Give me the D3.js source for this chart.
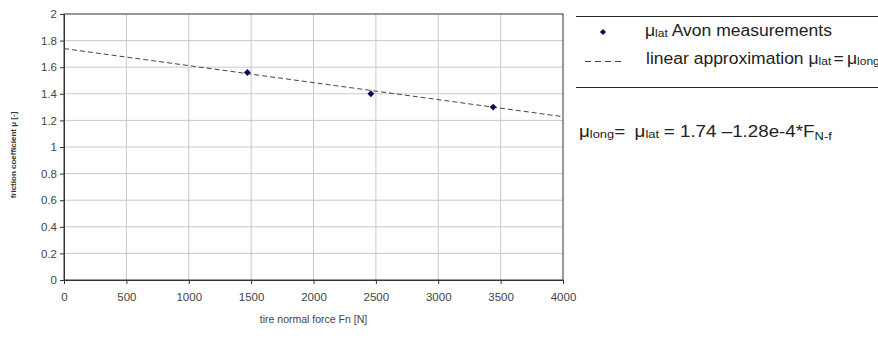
<!DOCTYPE html>
<html lang="en">
<head>
<meta charset="utf-8">
<title>friction coefficient</title>
<script src="https://cdn.jsdelivr.net/npm/d3@7"></script>
<style>
  body { margin: 0; background: #fff; }
  text { font-family: "Liberation Sans", Arial, sans-serif; }
</style>
</head>
<body>
<script>
var w = 878, h = 354;
var plotLeft = 64, plotRight = 563, plotTop = 14, plotBottom = 280;

// measured points (tire normal force [N], mu)
var forceN = [1470, 2460, 3440];
var muLat = [1.56, 1.40, 1.30];

// linear fit mu = a + b*F
var fitA = 1.74, fitB = -1.28e-4;

var xTicks = [0, 500, 1000, 1500, 2000, 2500, 3000, 3500, 4000];
var yTicks = [0, 0.2, 0.4, 0.6, 0.8, 1, 1.2, 1.4, 1.6, 1.8, 2];

var xScale = d3.scaleLinear().domain([0, 4000]).range([plotLeft, plotRight]);
var yScale = d3.scaleLinear().domain([0, 2]).range([plotBottom, plotTop]);

var svg = d3.select("body").append("svg").attr("width", w).attr("height", h);

// grid
svg.append("g").selectAll("line").data(xTicks.slice(1, -1)).enter().append("line")
    .attr("x1", function(d){ return xScale(d); }).attr("x2", function(d){ return xScale(d); })
    .attr("y1", plotTop).attr("y2", plotBottom)
    .attr("stroke", "#c8c8c8").attr("stroke-width", 1);
svg.append("g").selectAll("line").data(yTicks.slice(1, -1)).enter().append("line")
    .attr("x1", plotLeft).attr("x2", plotRight)
    .attr("y1", function(d){ return yScale(d); }).attr("y2", function(d){ return yScale(d); })
    .attr("stroke", "#c8c8c8").attr("stroke-width", 1);

// frame
svg.append("rect").attr("x", plotLeft).attr("y", plotTop)
    .attr("width", plotRight - plotLeft).attr("height", plotBottom - plotTop)
    .attr("fill", "none").attr("stroke", "#333").attr("stroke-width", 1);

// axes
var xAxis = d3.axisBottom(xScale).tickValues(xTicks).tickSize(4).tickFormat(d3.format("d"));
var yAxis = d3.axisLeft(yScale).tickValues(yTicks).tickSize(4).tickFormat(function(d){ return String(d); });

var gx = svg.append("g").attr("transform", "translate(0," + plotBottom + ")").call(xAxis);
var gy = svg.append("g").attr("transform", "translate(" + plotLeft + ",0)").call(yAxis);
[gx, gy].forEach(function(g){
    g.select(".domain").attr("stroke", "#333");
    g.selectAll(".tick line").attr("stroke", "#333");
    g.selectAll(".tick text").attr("fill", "#444").attr("font-size", "11.5px")
        .attr("font-family", "Liberation Sans, Arial, sans-serif");
});
gx.selectAll(".tick text").attr("dy", "1.2em");

// axis titles
svg.append("text").attr("x", (plotLeft + plotRight) / 2).attr("y", 323)
    .attr("text-anchor", "middle").attr("font-size", "10.5px").attr("fill", "#444")
    .text("tire normal force Fn  [N]");
svg.append("text").attr("transform", "translate(16," + ((plotTop + plotBottom) / 2 + 8) + ") rotate(-90)")
    .attr("text-anchor", "middle").attr("font-size", "8px").attr("fill", "#333")
    .attr("font-weight", "bold")
    .text("friction coefficient μ [-]");

// fit line
var line = d3.line().x(function(d){ return xScale(d); }).y(function(d){ return yScale(fitA + fitB * d); });
svg.append("path").datum([0, 4000]).attr("d", line)
    .attr("fill", "none").attr("stroke", "#444").attr("stroke-width", 1)
    .attr("stroke-dasharray", "5,3");

// points
var symbol = d3.symbol().type(d3.symbolDiamond2).size(30);
svg.selectAll(".pt").data(forceN).enter().append("path").attr("class", "pt")
    .attr("d", symbol)
    .attr("transform", function(d, i){ return "translate(" + xScale(d) + "," + yScale(muLat[i]) + ")"; })
    .attr("fill", "#0a0a5a");

// stretch a text horizontally from its left edge
function stretch(t, x0, k) {
    t.attr("transform", "translate(" + x0 + ",0) scale(" + k + ",1) translate(" + (-x0) + ",0)");
}

// legend
var lg = svg.append("g");
lg.append("line").attr("x1", 576).attr("x2", w).attr("y1", 16.5).attr("y2", 16.5).attr("stroke", "#222");
lg.append("line").attr("x1", 576).attr("x2", w).attr("y1", 87.5).attr("y2", 87.5).attr("stroke", "#222");
lg.append("path").attr("d", d3.symbol().type(d3.symbolDiamond2).size(24))
    .attr("transform", "translate(603,32)").attr("fill", "#0a0a5a");
lg.append("line").attr("x1", 585).attr("x2", 624).attr("y1", 61.5).attr("y2", 61.5)
    .attr("stroke", "#444").attr("stroke-dasharray", "6,4");

var t1 = lg.append("text").attr("x", 645).attr("y", 36).attr("font-size", "16px").attr("fill", "#222");
t1.append("tspan").text("μ");
t1.append("tspan").attr("font-size", "11px").attr("dy", "1").text("lat");
t1.append("tspan").attr("dy", "-1").text(" Avon measurements");
var k1 = (832 - 645) / t1.node().getBBox().width;
stretch(t1, 645, k1);

var t2 = lg.append("text").attr("x", 646).attr("y", 64).attr("font-size", "16px").attr("fill", "#222");
t2.append("tspan").text("linear approximation μ");
t2.append("tspan").attr("font-size", "11px").attr("dy", "1").text("lat");
t2.append("tspan").attr("dy", "-1").attr("dx", 2).text("=");
t2.append("tspan").attr("dx", 3).text("μ");
t2.append("tspan").attr("font-size", "11px").attr("dy", "1").text("long");
stretch(t2, 646, k1);

var t3 = svg.append("text").attr("x", 579).attr("y", 137).attr("font-size", "16px").attr("fill", "#222");
t3.append("tspan").text("μ");
t3.append("tspan").attr("font-size", "11px").attr("dy", "1").text("long");
t3.append("tspan").attr("dy", "-1").text("=");
t3.append("tspan").attr("dx", 8).text("μ");
t3.append("tspan").attr("font-size", "11px").attr("dy", "1").text("lat");
t3.append("tspan").attr("dy", "-1").attr("dx", 4).text("= 1.74 –1.28e-4*F");
t3.append("tspan").attr("font-size", "11px").attr("dy", "3").text("N-f");
stretch(t3, 579, (833 - 579) / t3.node().getBBox().width);
</script>
</body>
</html>
